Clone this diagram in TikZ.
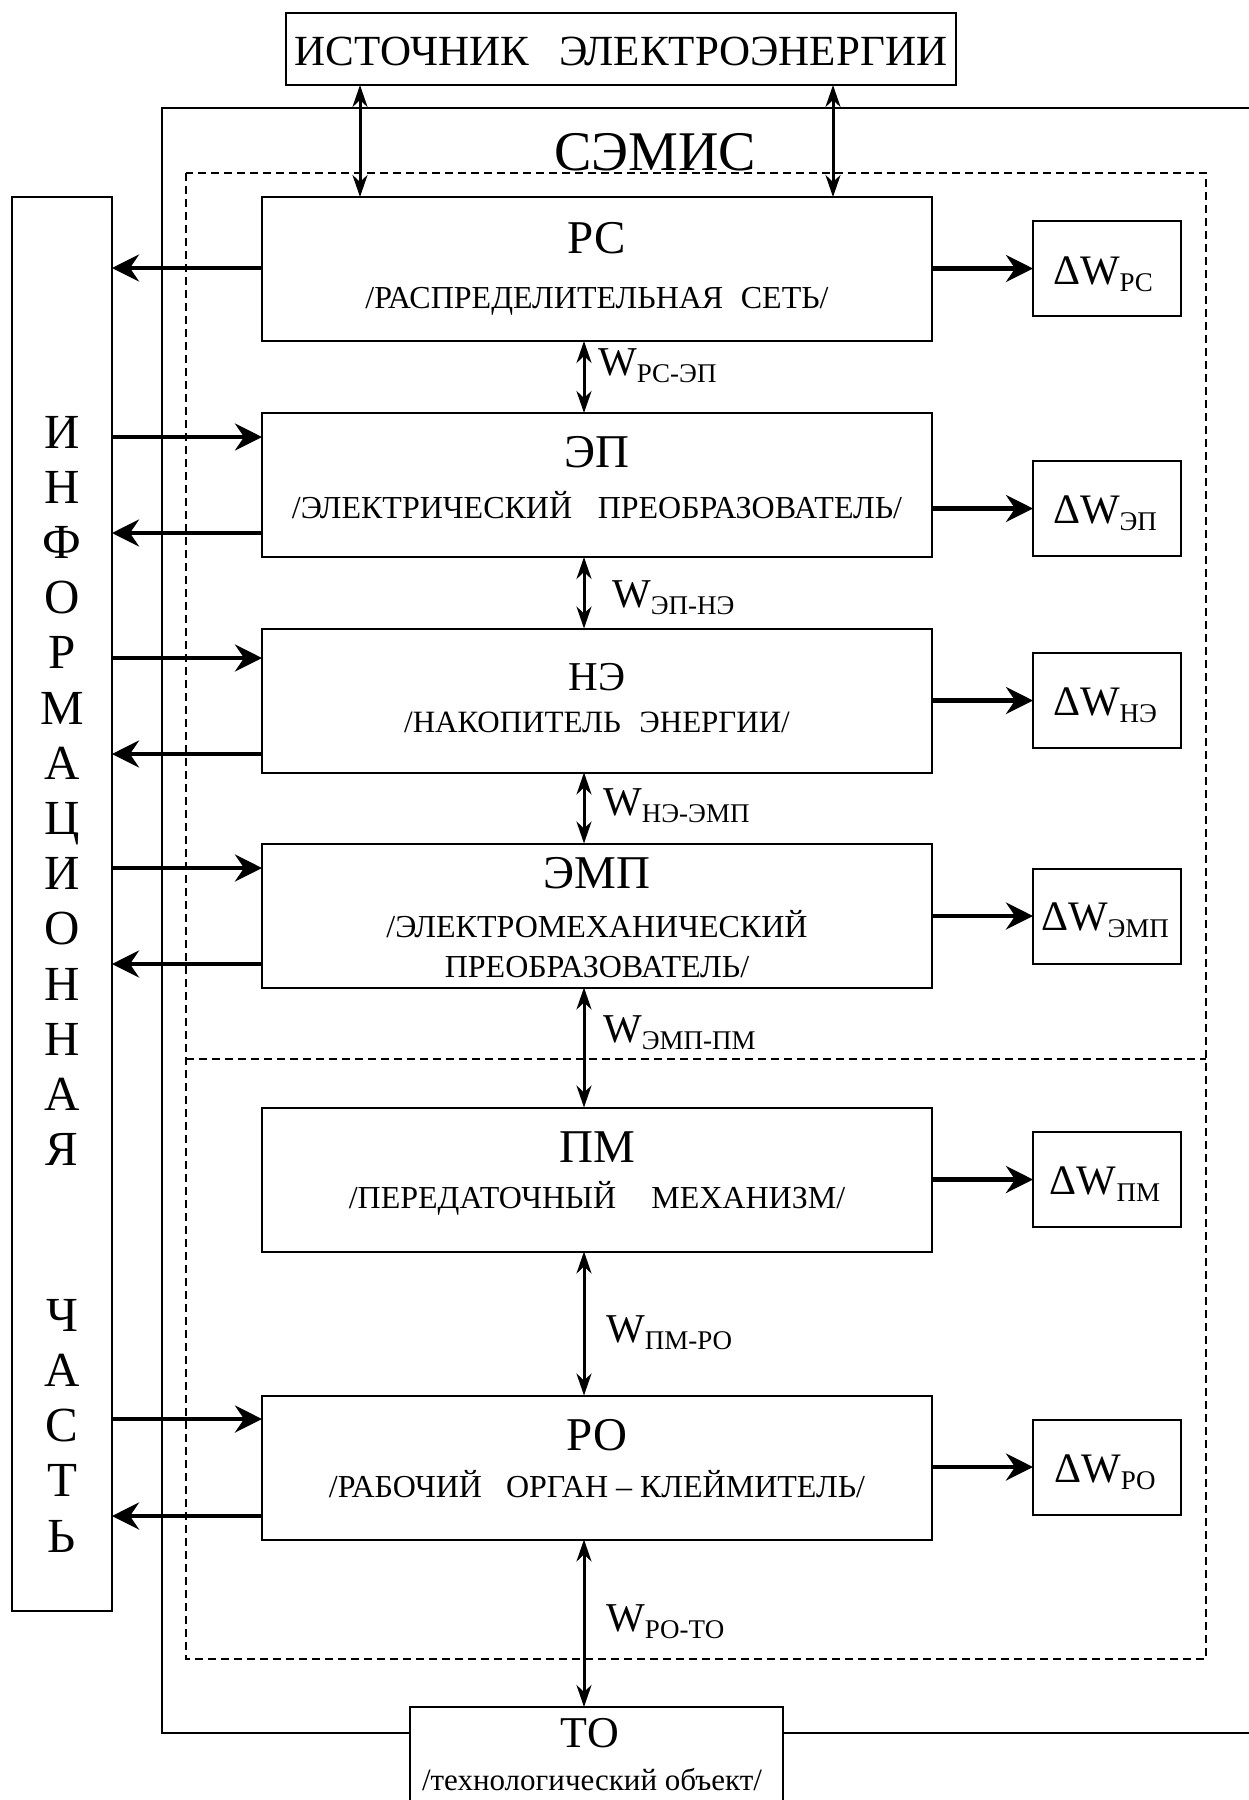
\documentclass[tikz,border=0pt]{standalone}
\usepackage{fontspec}
\setmainfont{Liberation Serif}
\usetikzlibrary{arrows.meta}
\newcommand{\fs}[1]{\fontsize{#1}{#1}\selectfont}
\newcommand{\wsub}[1]{\raisebox{-7pt}{\fs{27}#1}}
\begin{document}
\begin{tikzpicture}[x=1pt,y=-1pt,
  box/.style={draw,line width=2pt,inner sep=0pt,outer sep=0pt},
  big/.style={line width=4.2pt,-{Stealth[length=27pt,width=27pt,inset=9pt]}},
  dbl/.style={line width=3pt,{Stealth[length=22pt,width=15pt,inset=7pt]}-{Stealth[length=22pt,width=15pt,inset=7pt]}},
  frame/.style={line width=2.5pt},
  dashline/.style={line width=2pt,dash pattern=on 8pt off 5pt},
  ttl/.style={anchor=base,inner sep=0pt,font=\fs{47}},
  sttl/.style={anchor=base,inner sep=0pt,font=\fs{32}},
  wlab/.style={anchor=base west,inner sep=0pt,font=\fs{41}},
  dlab/.style={anchor=base,inner sep=0pt,font=\fs{42}}
]
\useasboundingbox (0,0) rectangle (1249,1800);

% frames
\node[box,minimum width=373,minimum height=103] (to) at (596.5,1758.5) {};
\draw[frame] (1260,108) -- (162,108) -- (162,1733) -- (to.west |- 0,1733);
\draw[frame] (to.east |- 0,1733) -- (1260,1733);
\draw[dashline] (186,173) rectangle (1206,1659);
\draw[dashline] (186,1059) -- (1206,1059);

% source
\node[box,minimum width=670,minimum height=72] (src) at (621,49) {};
\node[anchor=base,inner sep=0pt,font=\fs{43}] (srcT) at (621,65) {ИСТОЧНИК\hspace{0.7em}ЭЛЕКТРОЭНЕРГИИ};
\node[anchor=base,inner sep=0pt,font=\fs{56}] (semis) at (655,170) {СЭМИС};

% info box
\node[box,minimum width=100,minimum height=1414] (info) at (62,904) {};
\foreach \ch/\k in {И/0,Н/1,Ф/2,О/3,Р/4,М/5,А/6,Ц/7,И/8,О/9,Н/10,Н/11,А/12,Я/13,Ч/16,А/17,С/18,Т/19,Ь/20}
  \node[anchor=base,inner sep=0pt,font=\fs{49}] (l\k) at (62,448+55.2*\k) {\ch};

% main boxes
\node[box,minimum width=670,minimum height=144] (rs)  at (597,269) {};
\node[box,minimum width=670,minimum height=144] (ep)  at (597,485) {};
\node[box,minimum width=670,minimum height=144] (ne)  at (597,700.5) {};
\node[box,minimum width=670,minimum height=144] (emp) at (597,915.5) {};
\node[box,minimum width=670,minimum height=144] (pm)  at (597,1179.5) {};
\node[box,minimum width=670,minimum height=144] (ro)  at (597,1467.5) {};

\node[ttl]  (rsT)  at (597,253) {РС};
\node[sttl] (rsS)  at (597,308) {/РАСПРЕДЕЛИТЕЛЬНАЯ\hspace{0.55em}СЕТЬ/};
\node[ttl]  (epT)  at (597,467) {ЭП};
\node[sttl] (epS)  at (597,518) {/ЭЛЕКТРИЧЕСКИЙ\hspace{0.8em}ПРЕОБРАЗОВАТЕЛЬ/};
\node[ttl,font=\fs{41}] (neT) at (597,690) {НЭ};
\node[sttl,font=\fs{31}] (neS) at (597,732) {/НАКОПИТЕЛЬ\hspace{0.6em}ЭНЕРГИИ/};
\node[ttl]  (empT) at (597,888) {ЭМП};
\node[sttl] (empS) at (597,937) {/ЭЛЕКТРОМЕХАНИЧЕСКИЙ};
\node[sttl] (empS2) at (597,977) {ПРЕОБРАЗОВАТЕЛЬ/};
\node[ttl]  (pmT)  at (597,1162) {ПМ};
\node[sttl] (pmS)  at (597,1208) {/ПЕРЕДАТОЧНЫЙ\hspace{1.1em}МЕХАНИЗМ/};
\node[ttl]  (roT)  at (597,1450) {РО};
\node[sttl] (roS)  at (597,1497) {/РАБОЧИЙ\hspace{0.75em}ОРГАН – КЛЕЙМИТЕЛЬ/};
\node[ttl,font=\fs{44}] (toT) at (590,1747) {ТО};
\node[sttl,font=\fs{31}] (toS) at (592,1790) {/технологический объект/};

% delta boxes
\node[box,minimum width=148,minimum height=95] (dwrs)  at (1107,268.5) {};
\node[box,minimum width=148,minimum height=95] (dwep)  at (1107,508.5) {};
\node[box,minimum width=148,minimum height=95] (dwne)  at (1107,700.5) {};
\node[box,minimum width=148,minimum height=95] (dwemp) at (1107,916) {};
\node[box,minimum width=148,minimum height=95] (dwpm)  at (1107,1179.5) {};
\node[box,minimum width=148,minimum height=95] (dwro)  at (1107,1467) {};
\node[dlab] (dwrsT)  at (1103,284) {ΔW\wsub{РС}};
\node[dlab] (dwepT)  at (1105,523) {ΔW\wsub{ЭП}};
\node[dlab] (dwneT)  at (1105,715) {ΔW\wsub{НЭ}};
\node[dlab] (dwempT) at (1105,930) {ΔW\wsub{ЭМП}};
\node[dlab] (dwpmT)  at (1105,1194) {ΔW\wsub{ПМ}};
\node[dlab] (dwroT)  at (1105,1482) {ΔW\wsub{РО}};

% arrows to delta boxes
\draw[big] (rs.east |- dwrs.west) -- (dwrs.west);
\draw[big] (ep.east |- dwep.west) -- (dwep.west);
\draw[big] (ne.east |- dwne.west) -- (dwne.west);
\draw[big] (emp.east |- dwemp.west) -- (dwemp.west);
\draw[big] (pm.east |- dwpm.west) -- (dwpm.west);
\draw[big] (ro.east |- dwro.west) -- (dwro.west);

% info arrows
\draw[big] (rs.west |- 0,268) -- (info.east |- 0,268);
\draw[big] (info.east |- 0,437) -- (ep.west |- 0,437);
\draw[big] (ep.west |- 0,533) -- (info.east |- 0,533);
\draw[big] (info.east |- 0,658) -- (ne.west |- 0,658);
\draw[big] (ne.west |- 0,754) -- (info.east |- 0,754);
\draw[big] (info.east |- 0,868) -- (emp.west |- 0,868);
\draw[big] (emp.west |- 0,964) -- (info.east |- 0,964);
\draw[big] (info.east |- 0,1419) -- (ro.west |- 0,1419);
\draw[big] (ro.west |- 0,1516) -- (info.east |- 0,1516);

% energy flow arrows
\coordinate (vx) at (584,0);
\coordinate (sa) at (360,0);
\coordinate (sb) at (833,0);
\draw[dbl] (src.south -| sa) -- (rs.north -| sa);
\draw[dbl] (src.south -| sb) -- (rs.north -| sb);
\draw[dbl] (rs.south -| vx) -- (ep.north -| vx);
\draw[dbl] (ep.south -| vx) -- (ne.north -| vx);
\draw[dbl] (ne.south -| vx) -- (emp.north -| vx);
\draw[dbl] (emp.south -| vx) -- (pm.north -| vx);
\draw[dbl] (pm.south -| vx) -- (ro.north -| vx);
\draw[dbl] (ro.south -| vx) -- (to.north -| vx);

\node[wlab] (w1) at (598,375) {W\wsub{РС-ЭП}};
\node[wlab] (w2) at (612,607) {W\wsub{ЭП-НЭ}};
\node[wlab] (w3) at (603,815) {W\wsub{НЭ-ЭМП}};
\node[wlab] (w4) at (603,1042) {W\wsub{ЭМП-ПМ}};
\node[wlab] (w5) at (606,1342) {W\wsub{ПМ-РО}};
\node[wlab] (w6) at (606,1631) {W\wsub{РО-ТО}};
\end{tikzpicture}
\end{document}
